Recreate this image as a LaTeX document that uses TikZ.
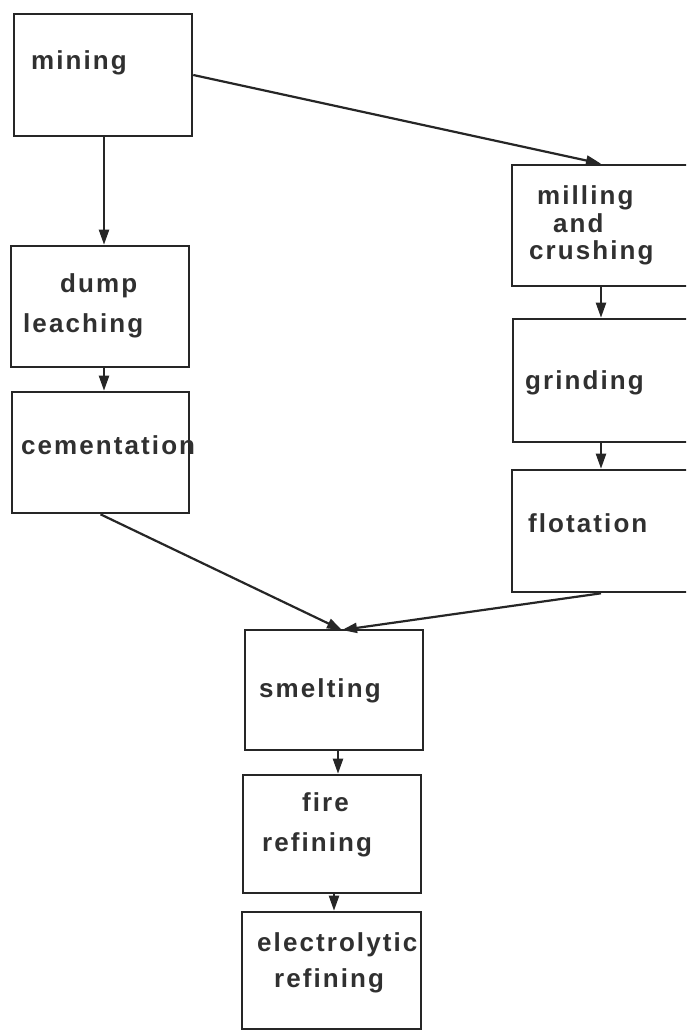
\documentclass[tikz,border=0pt]{standalone}
\usepackage{fontspec}
\setmainfont{Liberation Sans}[LetterSpace=8]
\usetikzlibrary{arrows.meta}
\definecolor{ink}{HTML}{262626}
\definecolor{txt}{HTML}{303030}
\tikzset{
  box/.style={draw=ink, line width=2.6pt, rectangle, inner sep=0pt, minimum width=178pt},
  lbl/.style={anchor=west, inner sep=0pt, text=txt, font=\fontsize{26pt}{30pt}\selectfont\bfseries, text height=18.7pt, text depth=5.5pt, yshift=-3pt},
  flow/.style={draw=ink, line width=2.2pt, -{Triangle[length=15pt,width=10pt]}}
}
\begin{document}
\begin{tikzpicture}[x=1pt, y=-1pt]
\clip (0,0) rectangle (686,1031);
\fill[white] (0,0) rectangle (686,1031);
% boxes
\node[box, minimum height=122pt] (mining) at (103,75) {};
\node[box, minimum height=121pt] (dump) at (100,306.5) {};
\node[box, minimum height=121pt, minimum width=177pt] (cement) at (100.5,452.5) {};
\node[box, minimum height=121pt] (milling) at (601,225.5) {};
\node[box, minimum height=123pt] (grinding) at (602,380.5) {};
\node[box, minimum height=122pt] (flotation) at (601,531) {};
\node[box, minimum height=120pt] (smelting) at (334,690) {};
\node[box, minimum height=118pt] (fire) at (332,834) {};
\node[box, minimum height=117pt, minimum width=179pt] (electro) at (331.5,970.5) {};
% labels
\node[lbl] (tmining) at (31,60) {mining};
\node[lbl] (tdump) at (60,283) {dump};
\node[lbl] (tleach) at (23,323) {leaching};
\node[lbl] (tcement) at (21,445) {cementation};
\node[lbl] (tmill) at (537,195) {milling};
\node[lbl] (tand) at (553,223) {and};
\node[lbl] (tcrush) at (529,250) {crushing};
\node[lbl] (tgrind) at (525,380) {grinding};
\node[lbl] (tflot) at (528,523) {flotation};
\node[lbl] (tsmelt) at (259,688) {smelting};
\node[lbl] (tfire) at (302,802) {fire};
\node[lbl] (tfref) at (262,842) {refining};
\node[lbl] (telec) at (257,942) {electrolytic};
\node[lbl] (teref) at (274,978) {refining};
% connectors
\coordinate (meet) at (342,630);
\coordinate (sfa) at ([xshift=4pt]smelting.south);
\coordinate (fea) at ([xshift=2pt]fire.south);
\coordinate (mda) at ([xshift=1pt]mining.south);
\draw[flow] (mda) -- (mda |- dump.north);
\draw[flow] (dump.south -| mda) -- (cement.north -| mda);
\draw[flow] (mining.east) -- (milling.north);
\draw[flow] (milling.south) -- (grinding.north -| milling.south);
\draw[flow] (grinding.south -| milling.south) -- (flotation.north);
\draw[flow] (cement.south) -- (meet);
\draw[flow] (flotation.south) -- (meet);
\draw[flow] (sfa) -- (sfa |- fire.north);
\draw[flow] (fea) -- (fea |- electro.north);
\end{tikzpicture}
\end{document}
